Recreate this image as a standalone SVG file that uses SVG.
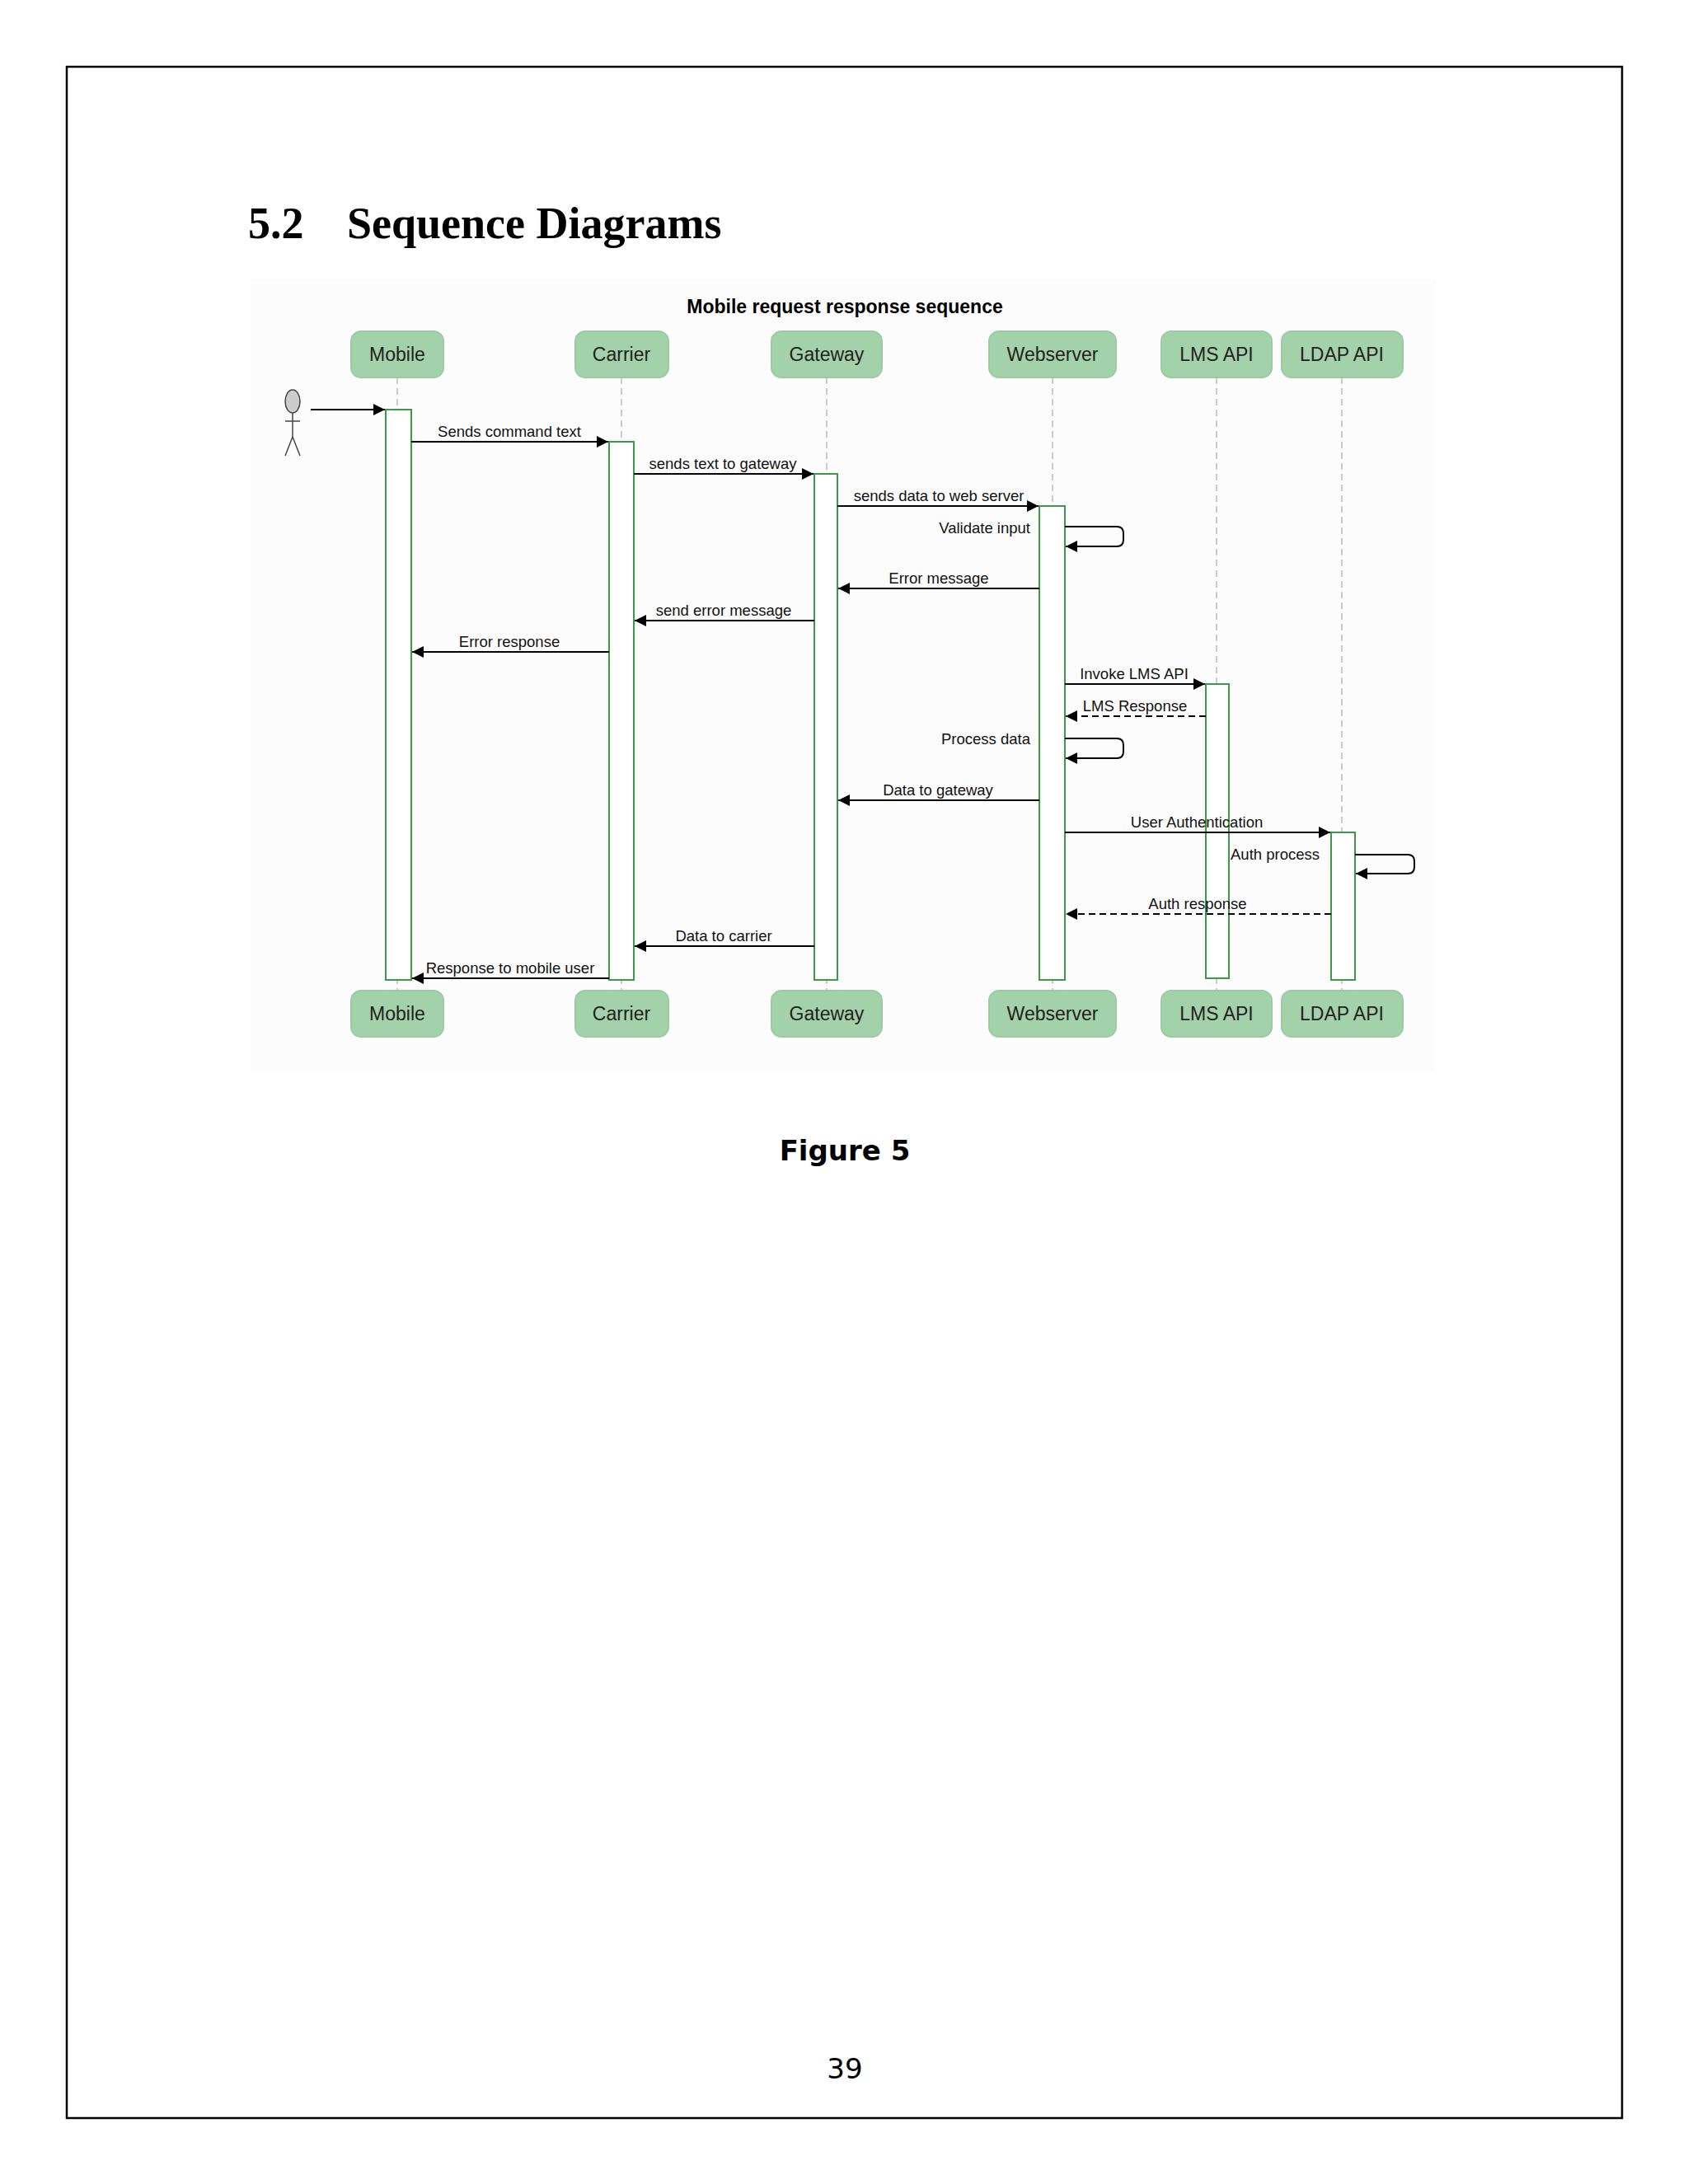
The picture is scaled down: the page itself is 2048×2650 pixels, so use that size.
<svg xmlns="http://www.w3.org/2000/svg" width="2048" height="2650" viewBox="0 0 2048 2650">
<defs>
<marker id="ah" viewBox="0 0 10 10" refX="10" refY="5" markerWidth="14" markerHeight="14" markerUnits="userSpaceOnUse" orient="auto"><path d="M0,0 L10,5 L0,10 z" fill="#000"/></marker>
</defs>
<style>
.box{fill:#a3d1a9;stroke:#9ccaa2;stroke-width:2}
.bt{font-family:"Liberation Sans",Arial,sans-serif;font-size:23px;fill:#222;text-anchor:middle}
.life{stroke:#bbb;stroke-width:1.5;stroke-dasharray:8,5}
.act{fill:#fff;stroke:#3a9a46;stroke-width:2}
.m{stroke:#000;stroke-width:2;fill:none;marker-end:url(#ah)}
.d{stroke-dasharray:8,5}
.lb{font-family:"Liberation Sans",Arial,sans-serif;font-size:18.5px;fill:#111;text-anchor:middle}
</style>
<rect width="2048" height="2650" fill="#fff"/>
<rect x="81" y="81" width="1887" height="2489" fill="none" stroke="#000" stroke-width="2.5"/>
<text x="301" y="289" font-family="Liberation Serif,serif" font-weight="bold" font-size="54">5.2</text>
<text x="421" y="289" font-family="Liberation Serif,serif" font-weight="bold" font-size="54">Sequence Diagrams</text>
<rect x="304" y="338" width="1438" height="961" fill="#fdfcfd"/>
<text x="1025" y="380" font-family="Liberation Sans,Arial,sans-serif" font-weight="bold" font-size="23" text-anchor="middle">Mobile request response sequence</text>
<g id="lifelines">
<line class="life" x1="482" y1="458" x2="482" y2="1202"/>
<line class="life" x1="754" y1="458" x2="754" y2="1202"/>
<line class="life" x1="1003" y1="458" x2="1003" y2="1202"/>
<line class="life" x1="1277" y1="458" x2="1277" y2="1202"/>
<line class="life" x1="1476" y1="458" x2="1476" y2="1202"/>
<line class="life" x1="1628" y1="458" x2="1628" y2="1202"/>
</g>
<g id="mobile"><rect class="box" x="426" y="402" width="112" height="56" rx="12"/><text class="bt" x="482" y="438">Mobile</text><rect class="box" x="426" y="1202" width="112" height="56" rx="12"/><text class="bt" x="482" y="1238">Mobile</text><rect class="act" x="468" y="497" width="31" height="692"/></g>
<g id="carrier"><rect class="box" x="698" y="402" width="113" height="56" rx="12"/><text class="bt" x="754" y="438">Carrier</text><rect class="box" x="698" y="1202" width="113" height="56" rx="12"/><text class="bt" x="754" y="1238">Carrier</text><rect class="act" x="739" y="536" width="30" height="653"/></g>
<g id="gateway"><rect class="box" x="936" y="402" width="134" height="56" rx="12"/><text class="bt" x="1003" y="438">Gateway</text><rect class="box" x="936" y="1202" width="134" height="56" rx="12"/><text class="bt" x="1003" y="1238">Gateway</text><rect class="act" x="988" y="575" width="28" height="614"/></g>
<g id="webserver"><rect class="box" x="1200" y="402" width="154" height="56" rx="12"/><text class="bt" x="1277" y="438">Webserver</text><rect class="box" x="1200" y="1202" width="154" height="56" rx="12"/><text class="bt" x="1277" y="1238">Webserver</text><rect class="act" x="1261" y="614" width="31" height="575"/></g>
<g id="lmsapi"><rect class="box" x="1409" y="402" width="134" height="56" rx="12"/><text class="bt" x="1476" y="438">LMS API</text><rect class="box" x="1409" y="1202" width="134" height="56" rx="12"/><text class="bt" x="1476" y="1238">LMS API</text><rect class="act" x="1463" y="830" width="28" height="357"/></g>
<g id="ldapapi"><rect class="box" x="1555" y="402" width="147" height="56" rx="12"/><text class="bt" x="1628" y="438">LDAP API</text><rect class="box" x="1555" y="1202" width="147" height="56" rx="12"/><text class="bt" x="1628" y="1238">LDAP API</text><rect class="act" x="1615" y="1010" width="29" height="179"/></g>
<g id="actor" stroke="#444" stroke-width="1.5" fill="none">
<ellipse cx="355" cy="487" rx="9" ry="14" fill="#ccc"/>
<line x1="355" y1="501" x2="355" y2="530"/><line x1="346" y1="511" x2="364" y2="511"/>
<line x1="355" y1="530" x2="346" y2="553"/><line x1="355" y1="530" x2="364" y2="553"/>
</g>
<g id="connectors">
<line class="m" x1="377" y1="497" x2="467" y2="497"/>
<line class="m" x1="499" y1="536" x2="738" y2="536"/><text class="lb" x="618" y="530">Sends command text</text>
<line class="m" x1="769" y1="575" x2="987" y2="575"/><text class="lb" x="877" y="569">sends text to gateway</text>
<line class="m" x1="1016" y1="614" x2="1260" y2="614"/><text class="lb" x="1139" y="608">sends data to web server</text>
<path class="m" d="M1292,639 H1355 Q1363,639 1363,647 V655 Q1363,663 1355,663 H1293"/><text class="lb" x="1250" y="647" style="text-anchor:end">Validate input</text>
<line class="m" x1="1261" y1="714" x2="1017" y2="714"/><text class="lb" x="1139" y="708">Error message</text>
<line class="m" x1="988" y1="753" x2="770" y2="753"/><text class="lb" x="878" y="747">send error message</text>
<line class="m" x1="739" y1="791" x2="500" y2="791"/><text class="lb" x="618" y="785">Error response</text>
<line class="m" x1="1292" y1="830" x2="1462" y2="830"/><text class="lb" x="1376" y="824">Invoke LMS API</text>
<line class="m d" x1="1463" y1="869" x2="1293" y2="869"/><text class="lb" x="1377" y="863">LMS Response</text>
<path class="m" d="M1292,896 H1355 Q1363,896 1363,904 V912 Q1363,920 1355,920 H1293"/><text class="lb" x="1250" y="903" style="text-anchor:end">Process data</text>
<line class="m" x1="1261" y1="971" x2="1017" y2="971"/><text class="lb" x="1138" y="965">Data to gateway</text>
<line class="m" x1="1292" y1="1010" x2="1614" y2="1010"/><text class="lb" x="1452" y="1004">User Authentication</text>
<path class="m" d="M1644,1037 H1708 Q1716,1037 1716,1045 V1052 Q1716,1060 1708,1060 H1645"/><text class="lb" x="1547" y="1043">Auth process</text>
<line class="m d" x1="1615" y1="1109" x2="1293" y2="1109"/><text class="lb" x="1453" y="1103">Auth response</text>
<line class="m" x1="988" y1="1148" x2="770" y2="1148"/><text class="lb" x="878" y="1142">Data to carrier</text>
<line class="m" x1="739" y1="1187" x2="500" y2="1187"/><text class="lb" x="619" y="1181">Response to mobile user</text>
</g>
<text x="1025" y="1408" font-family="DejaVu Sans,sans-serif" font-weight="bold" font-size="34" text-anchor="middle">Figure 5</text>
<text x="1025" y="2522" font-family="DejaVu Sans,sans-serif" font-size="34" text-anchor="middle">39</text>
</svg>
